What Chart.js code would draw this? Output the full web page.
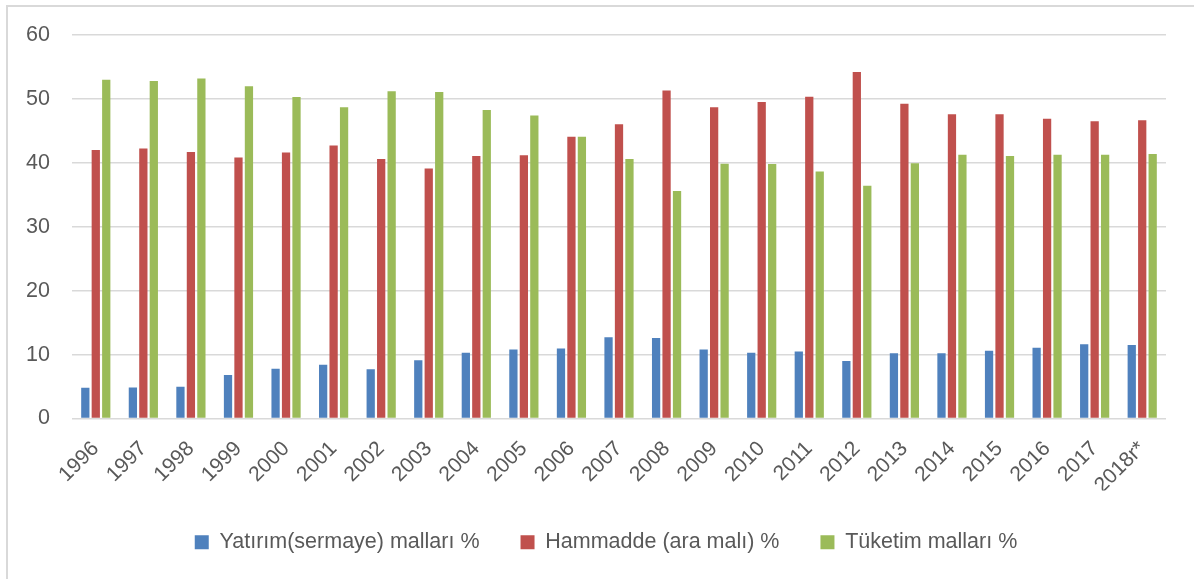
<!DOCTYPE html>
<html>
<head>
<meta charset="utf-8">
<script src="https://cdn.jsdelivr.net/npm/chart.js@4.4.1/dist/chart.umd.min.js"></script>
<style>
  html, body { margin: 0; padding: 0; background: #fff; }
  #wrap { width: 1194px; height: 579px; position: relative; }
</style>
</head>
<body>
<div id="wrap"><canvas id="importChart"></canvas></div>
<script>
// Data
const years = ['1996', '1997', '1998', '1999', '2000', '2001', '2002', '2003', '2004', '2005', '2006', '2007',
  '2008', '2009', '2010', '2011', '2012', '2013', '2014', '2015', '2016', '2017', '2018r*'];
const yatirim = [4.8, 4.85, 4.95, 6.8, 7.8, 8.4, 7.7, 9.1, 10.3, 10.8, 10.95, 12.7,
  12.6, 10.8, 10.3, 10.5, 9.0, 10.2, 10.2, 10.6, 11.05, 11.6, 11.5];
const hammadde = [42.0, 42.25, 41.7, 40.85, 41.6, 42.7, 40.6, 39.1, 41.05, 41.2, 44.1, 46.05,
  51.3, 48.7, 49.5, 50.35, 54.2, 49.25, 47.6, 47.6, 46.9, 46.5, 46.65];
const tuketim = [53.0, 52.8, 53.2, 52.0, 50.3, 48.7, 51.2, 51.1, 48.25, 47.4, 44.1, 40.6,
  35.6, 39.85, 39.8, 38.65, 36.4, 39.95, 41.25, 41.05, 41.25, 41.25, 41.4];
const yTicks = [0, 10, 20, 30, 40, 50, 60];

const textColor = '#595959';
const gridColor = '#d9d9d9';
const fontFamily = '"Liberation Sans", Arial, sans-serif';

// outer chart-area frame (Excel style)
const framePlugin = {
  id: 'frame',
  beforeDraw(chart) {
    const ctx = chart.ctx;
    ctx.save();
    ctx.strokeStyle = gridColor;
    ctx.lineWidth = 2;
    ctx.beginPath();
    ctx.moveTo(7, 600);
    ctx.lineTo(7, 6);
    ctx.lineTo(1200, 6);
    ctx.stroke();
    ctx.restore();
  }
};

// legend sits a little right of the canvas centre in the original
const legendShift = {
  id: 'legendShift',
  afterLayout(chart) {
    const lg = chart.legend;
    if (!lg) return;
    lg.left += 23;
    lg.right += 23;
    if (lg.legendHitBoxes) lg.legendHitBoxes.forEach(b => { b.left += 23; });
  }
};

const chart = new Chart(document.getElementById('importChart'), {
  type: 'bar',
  data: {
    labels: years,
    datasets: [
      { label: 'Yatırım(sermaye) malları %', data: yatirim, backgroundColor: '#4F81BD' },
      { label: 'Hammadde (ara malı) %', data: hammadde, backgroundColor: '#C0504D' },
      { label: 'Tüketim malları %', data: tuketim, backgroundColor: '#9BBB59' }
    ]
  },
  options: {
    responsive: true,
    maintainAspectRatio: false,
    animation: false,
    datasets: {
      bar: { categoryPercentage: 0.66, barPercentage: 0.79 }
    },
    layout: { padding: { left: 0, right: 28, top: 35, bottom: 16 } },
    plugins: {
      tooltip: { enabled: false },
      legend: {
        position: 'bottom',
        labels: {
          color: textColor,
          font: { family: fontFamily, size: 21.5 },
          boxWidth: 14,
          boxHeight: 14,
          padding: 41
        }
      }
    },
    scales: {
      x: {
        grid: { display: false },
        border: { display: false },
        ticks: {
          color: textColor,
          font: { family: fontFamily, size: 21 },
          maxRotation: 45,
          minRotation: 45,
          autoSkip: false,
          padding: 10
        },
        afterFit(scale) { scale.height = 72; }
      },
      y: {
        min: 0,
        max: 60,
        afterBuildTicks(scale) { scale.ticks = yTicks.map(v => ({ value: v })); },
        grid: { color: gridColor, lineWidth: 1.5, drawTicks: false },
        border: { display: false },
        ticks: {
          color: textColor,
          font: { family: fontFamily, size: 21.5 },
          padding: 22
        },
        afterFit(scale) { scale.width = 72; }
      }
    }
  },
  plugins: [framePlugin, legendShift]
});
</script>
</body>
</html>
